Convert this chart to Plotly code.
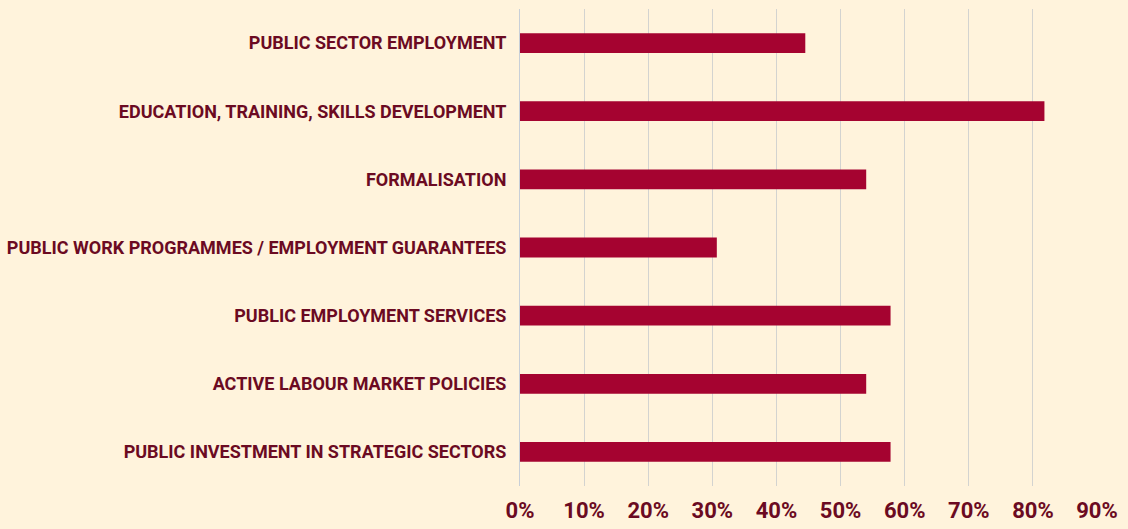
import plotly.graph_objects as go

categories = [
    "PUBLIC SECTOR EMPLOYMENT",
    "EDUCATION, TRAINING, SKILLS DEVELOPMENT",
    "FORMALISATION",
    "PUBLIC WORK PROGRAMMES / EMPLOYMENT GUARANTEES",
    "PUBLIC EMPLOYMENT SERVICES",
    "ACTIVE LABOUR MARKET POLICIES",
    "PUBLIC INVESTMENT IN STRATEGIC SECTORS",
]
values = [0.445, 0.818, 0.540, 0.307, 0.578, 0.540, 0.578]
tick_vals = [0, 0.1, 0.2, 0.3, 0.4, 0.5, 0.6, 0.7, 0.8, 0.9]
tick_text = ["0%", "10%", "20%", "30%", "40%", "50%", "60%", "70%", "80%", "90%"]

BG = "#FFF3DC"
BAR = "#A50330"
TXT = "#6B0A22"
FONT = "Roboto, sans-serif"

fig = go.Figure(go.Bar(
    x=values, y=categories, orientation="h",
    marker=dict(color=BAR, line=dict(width=0)),
    width=0.29,
))

fig.update_layout(
    width=1128, height=529,
    paper_bgcolor=BG, plot_bgcolor=BG,
    margin=dict(l=520, r=31, t=9, b=43),
    font=dict(family=FONT, color=TXT),
    showlegend=False,
)
fig.update_xaxes(
    range=[0, 0.9], tickvals=tick_vals, ticktext=tick_text,
    showgrid=True, gridcolor="#D3D3D0", gridwidth=1,
    zeroline=False, showline=False, automargin=False, tickangle=0,
    tickfont=dict(family=FONT, size=22, color=TXT, weight="bold"),
    ticks="", ticklabelstandoff=9,
)
fig.update_yaxes(
    autorange="reversed", showgrid=False, zeroline=False, automargin=False,
    showline=True, linecolor="#C8CFD8", linewidth=1,
    tickfont=dict(family=FONT, size=18, color=TXT, weight="bold"),
    ticks="", ticklabelstandoff=9,
)

fig.write_html(
    "out.html",
    config={"displayModeBar": False},
    post_script="document.body.style.margin='0';document.body.style.background='%s';document.body.style.overflow='hidden';" % BG,
)
